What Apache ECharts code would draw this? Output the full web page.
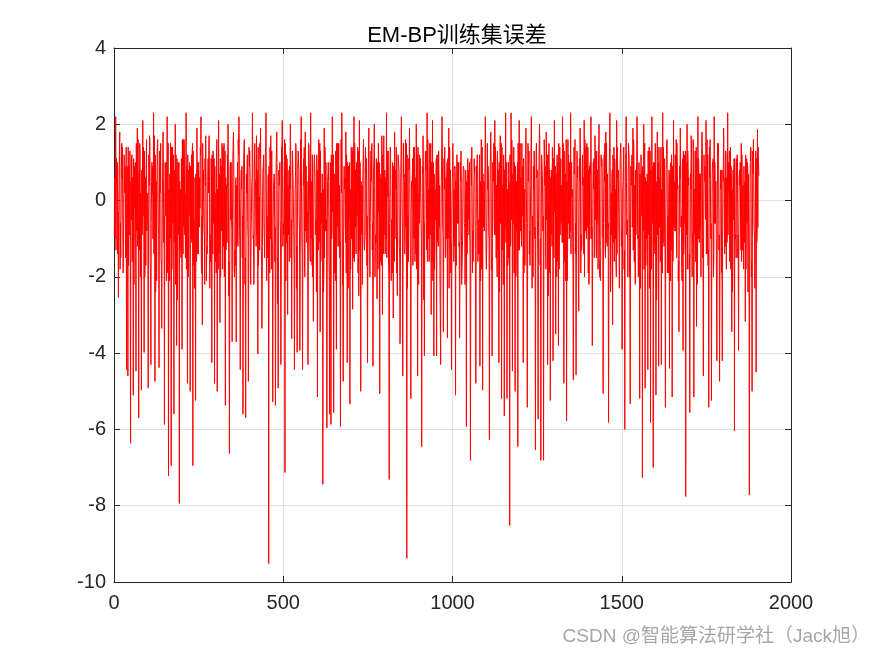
<!DOCTYPE html>
<html>
<head>
<meta charset="utf-8">
<script src="https://cdn.jsdelivr.net/npm/echarts@6/dist/echarts.min.js"></script>
<style>
html,body{margin:0;padding:0;background:#fff;}
#chart{width:875px;height:656px;}
</style>
</head>
<body>
<div id="chart"></div>
<script>
// Title and axis settings
var chartTitle = 'EM-BP训练集误差';
var xTicks = [0, 500, 1000, 1500, 2000];
var yTicks = [-10, -8, -6, -4, -2, 0, 2, 4];
var sampleStep = 4;

// Training-set error. Peaks/troughs at samples 1,5,9,...
var errValues = [
-0.9, 2.2, 0.4, -2.54, 1.8, -0.3, 1.4, -1.2, 0.9, -4.43,
-4.6, 0.9, -6.36, 1.2, -5.1, 0.3, -4.47, 1.9, -5.7, 1.3,
-4.97, 2.1, -3.98, 0.6, -0.8, -4.92, 1.7, -4.3, 0.2, 2.3,
-4.74, 0.5, 1.6, -4.38, 0.9, -3.35, 1.8, -5.87, -0.4, 2.2,
-7.22, 0.7, -6.95, 1.4, -5.6, 2.0, -3.8, 1.0, -7.94, 0.3,
-3.9, 1.6, -0.9, 2.3, -4.79, 0.8, -5.0, 1.2, -6.95, -0.7,
-5.24, 1.9, -1.4, 0.6, 2.2, -3.26, -0.3, 1.1, -2.1, 0.5,
1.7, -1.6, -4.25, 1.3, -4.79, 0.2, -5.0, 2.1, -3.2, 0.9,
-1.8, 1.5, -5.37, 0.4, 2.0, -6.63, -0.5, -3.7, 1.8, -1.3,
-3.7, 1.0, 2.2, -4.43, 0.3, -5.6, 1.6, -5.69, 0.8, -4.74,
1.3, -0.8, 2.3, -2.2, 0.6, 1.7, -4.02, 0.1, 1.9, -3.35,
0.9, -1.5, 2.3, -0.6, -9.52, 1.4, -1.8, -5.28, 0.7, -5.37,
1.8, -4.92, 0.5, -4.3, 2.1, -0.9, -7.13, 1.2, -2.99, 0.8,
2.0, -3.62, 0.6, -4.43, 1.5, -3.98, 1.1, -3.93, 2.2, -4.43,
0.4, 1.8, -1.1, -4.3, 0.9, 2.3, -1.7, -3.17, 1.2, -0.5,
-5.15, 1.6, -3.44, 0.2, -7.44, 1.9, -0.8, -5.96, 1.0, -5.6,
-5.87, 2.2, -5.56, 0.7, -3.9, 1.5, -1.2, -5.92, 2.3, -4.74,
0.3, 1.8, -4.25, 0.9, -5.33, 1.4, -2.85, 2.2, -0.7, 1.0,
-1.9, 2.1, -5.0, 0.4, 1.6, -1.3, 0.8, -4.25, 1.9, -0.6,
1.2, -4.34, 2.0, -0.9, -2.58, 1.5, -5.06, 0.6, -2.99, 1.7,
-1.4, 2.3, 0.1, -7.31, 1.3, -0.5, -3.08, 1.8, 0.4, -2.49,
1.1, -3.75, 2.2, -4.6, 0.7, 1.6, -9.38, -0.4, 1.9, -5.19,
0.5, 1.4, -1.6, 2.0, -4.6, 0.2, 1.1, -6.45, 1.7, -4.07,
0.8, 2.3, -1.0, 1.5, -2.99, 2.1, -4.07, 0.3, -4.07, 1.2,
-0.7, -4.3, 2.2, -3.44, 1.4, 0.6, -3.6, 1.9, -1.2, -4.43,
1.5, 0.3, -5.1, 1.2, -0.6, -3.6, 1.3, -1.4, 0.9, -2.2,
-5.92, 1.1, -0.9, -6.81, 1.4, -1.6, 0.7, -4.79, 1.2, -1.0,
-4.34, 1.6, -4.97, 0.5, 2.2, -1.3, 0.9, -6.27, 1.8, -4.07,
0.6, 2.1, -1.5, 1.3, -4.25, 1.7, -5.19, 0.4, -5.65, 2.3,
-5.19, 1.0, -8.52, 2.3, -4.47, 1.4, -5.0, 0.5, -6.45, 2.1,
-0.8, 1.5, -4.25, 0.3, 1.9, -5.42, 0.9, -1.7, 2.2, -0.4,
1.3, -6.54, 0.6, -5.73, 2.0, -6.81, 1.1, -6.81, 0.4, 1.8,
-4.3, 1.5, -5.24, 0.8, -4.2, 2.1, -3.5, 1.2, -3.8, 1.4,
-0.6, 2.2, -4.79, 0.7, -5.78, 1.6, -1.0, 2.3, 0.1, -4.7,
1.2, -4.57, 0.6, -2.9, 1.9, -1.3, 0.4, 2.1, -0.8, 1.5,
-1.9, 0.9, 2.2, -3.8, 0.3, 1.7, -1.5, 0.8, 2.0, -2.1,
1.1, -5.06, 0.5, 1.8, -1.2, -5.82, 2.3, 0.2, -3.26, 1.4,
-1.0, 2.1, 0.6, -2.3, 1.5, -3.9, 0.9, -6.0, 2.2, -0.7,
1.3, -5.33, 0.4, 1.9, -1.6, 0.8, 2.2, -2.0, -5.19, 1.2,
-7.26, 2.0, -4.92, 0.5, -4.43, 1.4, -5.82, 2.2, -7.0, 1.0,
-5.1, 1.8, -4.34, 0.6, -4.3, 2.3, -1.2, -5.42, 1.5, -0.4,
-4.4, 1.0, -5.15, 2.1, -0.8, 1.6, 0.3, -3.44, 1.9, -1.5,
-3.93, 1.2, -7.76, 2.0, 0.4, -5.56, 1.7, -0.9, -5.15, 1.3,
-3.3, 2.2, -1.1, 0.7, 1.8, -4.6, 0.5, 2.1, -1.4, -5.42,
1.6, -5.24, 0.9, 2.2, -0.6, -4.2, 1.5, -4.74, 0.3, -4.2,
1.9, 0.6, -1.8, 2.3, 0.2, 1.4, -3.44, 0.8, -6.04, -0.9,
1.2, -3.93, 0.4, 1.5, -1.3, 0.9, -3.17, 1.1, -2.4, -7.72,
1.4, -5.0, 1.6, -2.3, -4.5, 1.87, 0.65
];

// Core-band values at samples 2,6,10,...
var errFillB = [
0.6, -1.3, 1.0, -0.5, -1.8, 0.9, -0.7, 1.2, -1.5, 0.3,
1.4, -0.9, 0.5, -1.6, 1.1, -0.2, 1.5, -1.2, 0.7, -2.0,
0.8, -0.4, 1.3, -1.7, 0.2, -1.1, 1.6, -0.6, 0.9, -1.4,
1.2, -2.1, 0.4, -0.8, 1.5, -1.3, 0.6, -0.3, 1.0, -1.9,
0.3, -1.0, 1.4, -0.6, 0.8, -2.2, 1.1, -0.9, 0.5, -1.5,
1.6, -0.7, 0.2, -1.8, 1.2, -0.4, 0.9, -1.1, 1.3, -2.3,
0.7, -1.4, 1.0, -0.2, -1.6, 1.5, -0.8, 0.4, -1.2, 1.1,
0.5, -1.3, 1.2, -0.6, 0.9, -1.9, 0.3, -1.4, 1.1, -0.8,
1.4, -2.0, 0.6, -1.1, 0.2, -1.6, 1.0, -0.5, 0.8, -1.7,
0.4, -1.2, 1.5, -0.7, 0.9, -2.2, 0.3, -1.0, 1.2, -1.5,
0.7, -0.4, 1.1, -1.8, 0.5, -0.9, 1.4, -1.3, 0.2, -2.1,
1.2, -0.6, 0.4, -1.5, 0.9, -1.0, 1.3, -0.8, 0.6, -1.9,
0.3, -1.4, 1.0, -2.3, 0.7, -0.5, 1.5, -1.1, 0.4, -1.6,
1.1, -0.9, 0.6, -1.7, 1.3, -0.3, 0.8, -2.0, 0.2, -1.2,
1.4, -0.8, 0.5, -1.6, 0.9, -1.0, 1.2, -0.4, 0.6, -2.4,
0.8, -1.1, 1.3, -0.6, 0.3, -1.5, 1.0, -0.9, 0.5, -1.8,
1.2, -0.3, 0.7, -2.1, 1.5, -1.2, 0.4, -0.7, 1.1, -1.4,
0.6, -1.9, 1.0, -0.5, 0.3, -1.0, 1.4, -1.6, 0.8, -0.4,
1.3, -1.3, 0.5, -2.2, 0.9, -0.8, 1.1, -1.2, 0.2, -0.6,
1.5, -2.0, 0.4, -1.1, 1.0, -0.3, 0.7, -1.7, 1.2, -0.9,
0.6, -1.5, 1.3, -0.6, 0.3, -1.9, 0.9, -1.0, 1.4, -0.5,
0.8, -2.2, 1.0, -1.3, 0.5, -0.7, 1.2, -1.6, 0.4, -0.4,
1.1, -1.0, 0.6, -1.8, 1.4, -0.6, 0.2, -1.4, 0.9, -0.8,
1.3, -1.6, 0.3, -0.9, 1.0, -2.1, 0.7, -0.5, 1.2, -1.2,
0.4, -0.7, 1.4, -1.5, 0.6, -1.0, 1.1, -2.3, 0.8, -0.4,
0.9, -1.2, 0.5, -0.6, 1.0, -1.8, 0.4, -0.9, 0.8, -1.5,
0.5, -0.5, 1.0, -2.0, 0.3, -1.1, 0.9, -0.7, 1.2, -1.4,
0.5, -1.8, 0.7, -0.8, 1.3, -0.4, 0.6, -1.6, 1.1, -1.0,
1.5, -0.9, 0.4, -1.3, 1.0, -0.6, 1.4, -2.2, 0.8, -1.1,
0.3, -1.5, 1.2, -0.5, 0.7, -1.9, 0.9, -0.8, 1.5, -1.3,
0.6, -0.4, 1.1, -1.7, 0.5, -1.0, 1.3, -0.6, 0.2, -2.0,
1.0, -1.3, 0.8, -0.7, 1.4, -1.5, 0.4, -1.1, 0.9, -0.5,
1.2, -1.9, 0.6, -1.2, 1.1, -0.3, 0.7, -1.6, 1.5, -0.9,
0.4, -1.1, 1.3, -2.1, 0.5, -0.6, 1.0, -1.4, 0.3, -0.8,
1.6, -1.7, 0.9, -0.4, 1.2, -1.2, 0.6, -2.0, 1.4, -0.7,
0.8, -1.0, 0.5, -1.5, 1.1, -0.5, 1.3, -1.8, 0.4, -1.2,
1.0, -0.6, 1.5, -1.1, 0.7, -2.2, 0.9, -0.9, 1.2, -1.6,
0.3, -1.4, 0.8, -0.5, 1.0, -1.7, 1.4, -1.0, 0.5, -2.0,
1.1, -0.7, 1.2, -1.3, 0.4, -0.9, 1.5, -1.5, 0.7, -0.4,
0.9, -1.8, 0.6, -1.0, 1.3, -2.3, 0.8, -0.6, 1.0, -1.4,
0.5, -0.9, 1.4, -1.6, 0.3, -1.1, 1.1, -0.5, 1.6, -1.9,
0.7, -1.3, 0.9, -0.7, 1.2, -1.5, 0.4, -1.0, 0.8, -2.1,
1.3, -0.6, 1.0, -1.8, 0.6, -1.2, 1.5, -0.8, 0.3, -1.6,
1.1, -1.0, 0.7, -2.0, 1.3, -0.5, 0.9, -1.4, 1.2, -0.9,
0.4, -1.7, 1.1, -0.6, 0.5, -1.3, 1.4, -2.2, 0.8, -0.7,
1.0, -1.2, 0.6, -0.9, 1.3, -1.8, 0.3, -0.5, 1.1, -1.5,
0.9, -0.8, 1.0, -1.6, 0.4, -1.1, 1.2, -0.6, 0.7, -1.9,
1.3, -1.0, 0.5, -1.4, 1.1, -0.7
];

// Core-band values at samples 3,7,11,...
var errFill = [
-0.2, 1.1, -1.4, 0.7, -0.6, 1.5, -1.9, 0.4, -1.1, 0.9,
-1.7, 1.3, -0.5, 0.6, -2.2, 1.0, -0.8, 1.6, -1.3, 0.2,
-0.9, 1.4, -2.0, 0.8, -0.3, 1.2, -1.6, 0.5, -1.0, 1.7,
-2.4, 0.6, -0.7, 1.3, -1.5, 0.1, -1.1, 1.0, -2.1, 0.7,
-0.4, 1.5, -1.8, 0.9, -0.6, 1.2, -2.6, 0.3, -1.3, 1.1,
-0.8, 1.6, -1.5, 0.4, -2.0, 1.0, -0.5, 1.3, -1.7, 0.6,
-1.2, 0.9, -0.3, 1.4, -1.9, 0.5, -0.9, 1.7, -1.4, 0.2,
-2.3, 1.1, -0.6, 0.8, -1.6, 1.3, -1.0, 0.4, -2.0, 1.5,
-0.7, 0.6, -1.3, 1.2, -2.5, 0.9, -0.4, 1.0, -1.8, 0.3,
-1.1, 1.6, -0.8, 0.5, -1.5, 1.1, -2.2, 0.7, -0.6, 1.4,
-1.9, 0.4, -1.0, 1.3, -0.5, 0.8, -1.7, 1.5, -1.2, 0.1,
-0.6, 1.2, -2.1, 0.6, -1.4, 1.7, -0.9, 0.3, -1.6, 1.0,
-2.7, 0.8, -0.5, 1.4, -1.2, 0.5, -1.9, 1.1, -0.7, 0.9,
-1.5, 1.3, -0.8, 0.2, -2.3, 1.0, -0.4, 1.6, -1.1, 0.6,
-1.8, 0.7, -0.6, 1.5, -1.3, 0.4, -2.0, 0.9, -0.9, 1.2,
-0.5, 1.1, -1.6, 0.7, -2.4, 1.4, -0.8, 0.5, -1.4, 1.0,
-1.0, 0.3, -1.9, 1.3, -0.7, 0.9, -1.5, 1.6, -2.2, 0.4,
-0.6, 1.2, -1.2, 0.8, -1.8, 0.2, -0.9, 1.5, -1.4, 0.7,
-2.5, 1.0, -0.4, 0.6, -1.1, 1.4, -1.7, 0.3, -0.8, 1.3,
-1.3, 0.9, -2.0, 1.1, -0.5, 0.5, -1.6, 1.7, -1.0, 0.2,
-0.7, 1.3, -1.5, 0.4, -2.1, 1.0, -0.6, 0.8, -1.9, 1.2,
-1.2, 0.6, -0.3, 1.5, -1.4, 0.7, -2.3, 1.1, -0.8, 0.5,
-1.7, 1.4, -1.0, 0.3, -1.3, 1.2, -0.5, 0.9, -2.6, 0.6,
-0.9, 1.6, -1.6, 0.8, -0.4, 1.0, -1.8, 0.2, -1.1, 1.3,
-2.0, 0.5, -0.7, 1.1, -1.5, 0.6, -1.0, 1.4, -1.9, 0.4,
-0.8, 0.9, -1.7, 0.3, -1.2, 1.0, -2.2, 0.6, -0.6, 0.8,
-1.4, 0.5, -1.0, 1.1, -1.9, 0.2, -0.5, 0.9, -1.6, 0.7,
-2.1, 1.2, -0.7, 0.4, -1.3, 1.5, -0.9, 0.6, -1.8, 1.0,
-0.5, 1.4, -1.5, 0.8, -2.4, 0.3, -1.1, 1.2, -0.6, 0.9,
-1.7, 0.5, -1.2, 1.6, -0.4, 1.0, -2.0, 0.7, -1.3, 1.3,
-0.8, 0.2, -1.9, 1.1, -0.6, 1.5, -1.4, 0.4, -2.3, 0.9,
-1.0, 1.3, -0.5, 0.6, -1.7, 1.2, -0.8, 1.6, -1.2, 0.3,
-2.5, 0.8, -0.9, 1.4, -1.3, 0.5, -0.4, 1.0, -1.8, 0.7,
-0.6, 1.5, -1.6, 0.3, -2.1, 1.2, -0.7, 0.9, -1.1, 1.4,
-1.4, 0.6, -0.5, 1.1, -1.9, 0.8, -1.2, 1.6, -0.8, 0.2,
-2.2, 1.0, -1.0, 0.5, -1.5, 1.3, -0.6, 0.7, -2.0, 1.2,
-0.9, 0.4, -1.3, 1.5, -0.7, 0.9, -2.4, 0.6, -1.1, 1.1,
-1.6, 1.4, -0.4, 0.8, -1.2, 0.3, -1.8, 1.2, -0.9, 0.6,
-2.0, 0.9, -0.7, 1.6, -1.4, 0.5, -1.0, 1.0, -2.3, 0.4,
-0.5, 1.3, -1.7, 0.7, -0.9, 1.1, -1.5, 0.2, -1.2, 1.5,
-2.6, 0.6, -0.6, 1.0, -1.3, 1.4, -0.8, 0.8, -1.9, 0.3,
-1.1, 1.2, -1.6, 0.5, -0.5, 1.5, -2.1, 0.9, -0.7, 1.0,
-1.4, 0.4, -0.9, 1.3, -1.8, 0.7, -1.2, 1.6, -0.6, 0.2,
-2.2, 1.1, -0.8, 0.6, -1.5, 1.2, -0.4, 0.9, -1.7, 1.4,
-1.0, 0.5, -2.0, 1.0, -0.7, 1.5, -1.3, 0.3, -1.9, 0.8,
-0.6, 1.3, -1.1, 0.4, -1.6, 0.9, -2.4, 0.7, -0.9, 1.1,
-1.5, 0.6, -0.5, 1.2, -1.2, 0.2, -1.8, 1.0, -0.8, 0.5,
-2.0, 1.3, -0.7, 0.4, -1.1, 1.4
];

// Core-band values at samples 4,8,12,...
var errFillC = [
-1.0, 0.8, -0.3, 1.3, -1.5, 0.6, -1.2, 0.2, 1.4, -0.7,
0.5, -1.8, 1.1, -0.6, 0.9, -1.4, 0.3, -0.9, 1.5, -1.1,
-0.4, 0.7, -1.2, 1.6, -0.8, 0.4, -2.0, 1.0, -0.5, 0.6,
-1.3, 1.4, -0.9, 0.2, -1.7, 1.1, -0.4, 0.8, -1.0, 1.5,
-2.1, 0.5, -0.6, 1.2, -1.1, 0.3, -1.6, 1.0, -0.8, 0.7,
-1.4, 1.3, -0.2, 0.9, -1.9, 0.6, -1.0, 1.5, -0.5, 0.4,
-1.6, 1.0, -0.7, 1.2, -0.4, 0.8, -2.2, 0.5, -1.1, 1.4,
-0.9, 0.3, -1.4, 1.1, -0.6, 1.6, -1.8, 0.7, -0.3, 1.0,
-1.2, 1.3, -0.5, 0.4, -1.6, 1.0, -0.8, 1.5, -2.0, 0.6,
-0.7, 1.2, -1.3, 0.8, -0.4, 1.4, -1.5, 0.2, -1.0, 0.9,
-2.2, 0.6, -0.9, 1.5, -1.2, 0.3, -0.6, 1.1, -1.7, 0.8,
-1.0, 1.4, -0.4, 0.7, -1.9, 1.0, -1.3, 0.5, -0.7, 1.3,
-1.5, 0.4, -1.1, 1.2, -0.6, 1.6, -2.1, 0.8, -0.9, 0.3,
-0.5, 1.0, -1.7, 0.6, -1.2, 1.3, -0.8, 0.4, -1.4, 1.1,
-2.0, 0.9, -0.3, 1.4, -1.6, 0.5, -1.0, 1.2, -0.7, 0.6,
-1.3, 1.5, -0.8, 0.3, -1.9, 1.1, -0.5, 0.7, -2.2, 1.0,
-0.8, 1.2, -1.4, 0.5, -0.4, 1.5, -1.1, 0.2, -1.6, 0.9,
-1.1, 0.6, -2.3, 1.0, -0.7, 1.3, -1.5, 0.8, -0.5, 1.4,
-1.7, 0.3, -0.9, 1.1, -1.3, 0.7, -0.4, 1.6, -2.0, 0.5,
-0.6, 1.2, -1.2, 0.4, -1.8, 1.0, -0.8, 1.3, -1.4, 0.8,
-1.0, 0.5, -2.1, 1.4, -0.5, 0.9, -1.6, 0.3, -0.9, 1.1,
-1.5, 1.3, -0.7, 0.6, -1.1, 1.5, -0.4, 0.8, -1.9, 0.4,
-0.8, 1.0, -1.4, 1.2, -2.2, 0.5, -1.0, 0.7, -0.6, 1.3,
-1.3, 0.8, -0.5, 1.5, -1.6, 0.4, -1.2, 1.1, -0.8, 0.6,
-2.0, 1.2, -0.9, 0.3, -1.4, 1.0, -0.6, 1.3, -1.1, 0.7,
-1.6, 0.6, -0.4, 1.0, -1.1, 0.5, -1.9, 0.9, -0.7, 0.3,
-1.0, 0.8, -1.5, 0.4, -0.8, 1.1, -2.1, 0.6, -0.5, 1.2,
-1.3, 1.4, -0.6, 0.9, -1.8, 0.3, -1.0, 1.2, -1.5, 0.5,
-0.9, 1.1, -2.0, 0.6, -0.4, 1.5, -1.3, 0.8, -0.7, 1.0,
-1.6, 0.4, -1.1, 1.3, -0.6, 0.7, -1.9, 1.0, -1.0, 1.5,
-1.2, 0.9, -0.5, 1.2, -2.2, 0.5, -0.8, 1.4, -1.4, 0.3,
-0.7, 1.5, -1.7, 0.6, -1.0, 1.1, -0.4, 0.8, -1.8, 1.2,
-1.4, 0.5, -0.9, 1.3, -1.5, 0.9, -2.0, 0.4, -0.6, 1.1,
-1.1, 0.8, -0.5, 1.6, -1.3, 0.2, -0.8, 1.0, -1.7, 0.7,
-0.6, 1.3, -2.1, 0.5, -0.9, 1.2, -1.4, 0.6, -1.0, 1.4,
-1.8, 0.7, -0.7, 1.0, -1.2, 0.4, -0.5, 1.5, -1.6, 0.9,
-1.0, 1.2, -1.5, 0.3, -0.6, 1.4, -1.9, 0.8, -0.4, 1.0,
-2.0, 0.6, -1.1, 1.3, -0.8, 0.5, -1.3, 1.1, -0.5, 1.5,
-1.4, 0.4, -0.6, 1.2, -2.2, 1.0, -0.9, 0.3, -1.5, 0.8,
-0.8, 1.5, -1.2, 0.6, -0.5, 1.3, -1.8, 0.9, -1.0, 0.4,
-1.5, 1.0, -0.7, 1.4, -1.9, 0.5, -1.1, 1.2, -0.6, 0.8,
-2.1, 0.7, -1.3, 0.4, -0.8, 1.5, -1.6, 0.6, -0.4, 1.1,
-1.1, 1.3, -0.6, 0.9, -1.4, 0.3, -2.0, 1.0, -0.9, 1.4,
-1.7, 0.5, -0.8, 1.2, -1.0, 0.7, -0.5, 1.6, -1.3, 0.6,
-0.6, 1.0, -1.5, 0.4, -2.1, 1.3, -0.9, 0.8, -1.2, 0.5,
-1.4, 1.2, -0.7, 1.0, -0.5, 0.6, -1.6, 1.1, -1.0, 0.4,
-0.9, 0.8, -1.3, 1.2, -1.8, 0.5, -0.6, 0.9, -1.2, 1.0,
-1.6, 0.7, -0.9, 1.3, -0.8, 1.0
];

var seriesData = [];
errValues.forEach(function (v, i) {
  var base = i * sampleStep;
  seriesData.push([base + 1, v]);
  if (i < errFillB.length) seriesData.push([base + 2, errFillB[i]]);
  if (i < errFill.length) seriesData.push([base + 3, errFill[i]]);
  if (i < errFillC.length) seriesData.push([base + 4, errFillC[i]]);
});

var chart = echarts.init(document.getElementById('chart'), null, {renderer: 'canvas'});
var fontFam = 'Liberation Sans, Arial, Noto Sans CJK SC, sans-serif';
var axisCol = '#262626';
var gridCol = '#dfdfdf';
function fmt(v) { return String(v); }

function makeX(pos, showLabel) {
  return {
    type: 'value', position: pos, min: xTicks[0], max: xTicks[xTicks.length - 1], interval: 500,
    axisLine: {show: true, onZero: false, lineStyle: {color: axisCol, width: 1}},
    axisTick: {show: true, inside: true, length: 6, lineStyle: {color: axisCol}},
    axisLabel: {show: showLabel, color: axisCol, fontSize: 20, fontFamily: fontFam, margin: 11, formatter: fmt},
    splitLine: {show: showLabel, lineStyle: {color: gridCol, width: 1}}
  };
}
function makeY(pos, showLabel) {
  return {
    type: 'value', position: pos, min: yTicks[0], max: yTicks[yTicks.length - 1], interval: 2,
    axisLine: {show: true, onZero: false, lineStyle: {color: axisCol, width: 1}},
    axisTick: {show: true, inside: true, length: 6, lineStyle: {color: axisCol}},
    axisLabel: {show: showLabel, color: axisCol, fontSize: 20, fontFamily: fontFam, margin: 8, formatter: fmt},
    splitLine: {show: showLabel, lineStyle: {color: gridCol, width: 1}}
  };
}

chart.setOption({
  animation: false,
  backgroundColor: '#ffffff',
  title: {
    text: chartTitle, left: 452, top: 20, textAlign: 'center',
    textStyle: {fontSize: 22, fontWeight: 'normal', color: '#000', fontFamily: fontFam}
  },
  grid: {left: 114, right: 84, top: 48, bottom: 74, containLabel: false},
  xAxis: [makeX('bottom', true), makeX('top', false)],
  yAxis: [makeY('left', true), makeY('right', false)],
  series: [{
    type: 'line', xAxisIndex: 0, yAxisIndex: 0,
    data: seriesData, showSymbol: false, symbol: 'none',
    lineStyle: {color: '#ff0000', width: 1},
    itemStyle: {color: '#ff0000'}
  }],
  graphic: [{
    type: 'text', right: 5, top: 627,
    style: {text: 'CSDN @智能算法研学社（Jack旭）', fill: '#a6a6a6', fontSize: 19, fontFamily: 'Liberation Sans, Noto Sans CJK SC, sans-serif'}
  }]
});
</script>
</body>
</html>
